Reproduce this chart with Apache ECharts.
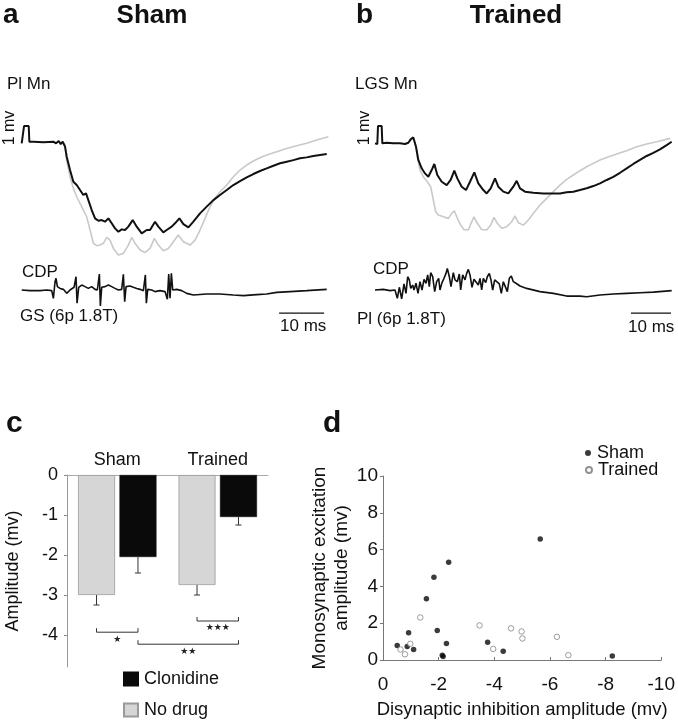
<!DOCTYPE html>
<html><head><meta charset="utf-8">
<script src="https://cdn.jsdelivr.net/npm/echarts@6/dist/echarts.min.js"></script>
<style>html,body{margin:0;padding:0;background:#fff}#c{width:678px;height:720px}</style>
</head><body><div id="c"></div><script>
// ---------- Panel a (Sham, Pl Mn) : [time ms, mV] ----------
var aBlack = [[0,-0.1],[0.37,-0.1],[0.52,0.98],[1.56,0.98],[1.7,0],[2.59,0],[4.81,-0.04],[7.04,0],[7.63,-0.1],[8.22,0.04],[8.67,-0.15],[9.11,0],[9.63,-0.31],[10,-0.94],[10.74,-1.77],[11.48,-2.5],[12.22,-2.71],[12.96,-3.02],[13.7,-3.33],[14.3,-3.23],[14.81,-3.65],[15.56,-4.27],[16.3,-4.79],[17.04,-4.94],[17.78,-4.9],[18.52,-5.0],[19.26,-4.79],[20,-5.1],[20.74,-5.42],[21.48,-5.63],[22.22,-5.48],[22.96,-5.52],[23.7,-5.31],[24.67,-4.9],[25.56,-5.31],[26.67,-5.73],[27.78,-5.52],[28.52,-5.52],[29.63,-5.0],[30.37,-5.31],[31.48,-5.67],[32.22,-5.52],[33.33,-5.31],[34.07,-5.1],[35.04,-4.79],[35.93,-5.15],[37.04,-5.35],[38.15,-5.0],[39.63,-4.48],[41.11,-4.06],[42.59,-3.65],[44.07,-3.33],[45.56,-3.02],[47.04,-2.71],[48.52,-2.46],[50,-2.23],[51.48,-2.02],[52.96,-1.83],[54.44,-1.67],[55.93,-1.5],[57.41,-1.35],[58.89,-1.25],[60.37,-1.15],[61.85,-1.04],[63.33,-0.98],[64.81,-0.9],[66.3,-0.83],[67.78,-0.77]];
var aGray = [[9.11,0],[9.63,-0.21],[10,-1.15],[10.74,-2.19],[11.48,-2.92],[12.22,-3.44],[12.96,-3.85],[13.7,-4.27],[14.44,-4.69],[15.19,-5.52],[15.93,-6.35],[16.67,-6.5],[17.41,-6.46],[18.15,-6.35],[18.89,-5.98],[19.63,-6.15],[20.37,-6.67],[21.48,-7.08],[22.59,-6.98],[23.7,-6.46],[24.44,-5.98],[25.19,-6.35],[26.3,-6.77],[27.41,-6.92],[28.52,-6.67],[29.48,-6.04],[30.37,-6.46],[31.48,-6.81],[32.59,-6.67],[33.7,-6.25],[34.81,-5.83],[35.93,-6.25],[37.41,-6.46],[38.52,-6.15],[39.63,-5.52],[40.74,-4.79],[41.85,-4.06],[42.96,-3.54],[44.07,-3.13],[45.56,-2.71],[47.04,-2.19],[48.52,-1.77],[50,-1.46],[51.48,-1.21],[52.96,-1.0],[54.44,-0.83],[56.67,-0.63],[58.89,-0.42],[61.11,-0.25],[63.33,-0.1],[65.56,0.1],[68.15,0.31]];
var aCDP = [[0,0],[1.85,-0.04],[4.07,-0.04],[5.56,0],[6.67,-0.04],[7.04,-0.52],[7.41,0.52],[7.63,0.73],[7.93,0.21],[8.52,0.1],[9.26,0.04],[10,-0.21],[10.74,0],[11.63,0.17],[12.07,0.83],[12.3,-0.83],[12.67,0.17],[13.33,0.31],[14.07,0.21],[14.81,0.1],[15.56,0.21],[16.3,0.04],[16.81,0],[17.26,1.0],[17.48,-1.0],[17.78,0.17],[18.52,0.21],[19.26,0.31],[20,0.21],[20.74,0.1],[21.48,0],[22.22,0.04],[22.59,0.98],[22.89,-0.73],[23.19,0.21],[24.07,0.25],[24.81,0.17],[25.56,0.1],[26.3,0.04],[27.04,-0.04],[27.48,0.94],[27.7,-0.83],[28,0.04],[28.89,0],[29.63,-0.1],[30.74,-0.04],[31.85,-0.1],[32.37,-0.58],[32.67,1.0],[32.96,-0.52],[33.26,1.04],[33.56,0],[34.44,0.04],[35.56,-0.04],[36.67,-0.21],[38.15,-0.31],[41.11,-0.25],[44.07,-0.25],[47.04,-0.31],[49.26,-0.35],[52.22,-0.29],[54.44,-0.25],[56.67,-0.15],[59.63,-0.1],[63.33,-0.04],[67.78,0.04]];
// ---------- Panel b (Trained, LGS Mn) ----------
var bBlack = [[0,-0.04],[0.58,-0.08],[0.75,1.04],[1.67,1.04],[1.83,-0.04],[2.92,0],[4.58,-0.04],[6.25,-0.04],[7.5,-0.08],[8.33,0],[8.92,0.21],[9.58,0.33],[10.25,-0.25],[10.83,-1.08],[11.67,-1.6],[12.5,-1.92],[13.33,-2.13],[14.17,-1.71],[14.83,-1.33],[15.58,-2.02],[16.67,-2.44],[17.92,-2.65],[18.92,-2.33],[19.83,-1.75],[20.58,-2.23],[21.67,-2.75],[22.75,-2.96],[23.75,-2.44],[24.83,-1.85],[25.83,-2.54],[27.08,-2.96],[27.92,-3.17],[28.92,-2.85],[30,-2.23],[30.83,-2.75],[32.08,-3.06],[33.33,-3.17],[34.58,-2.75],[35.42,-2.38],[36.25,-2.85],[37.5,-3.06],[39.58,-3.13],[42.08,-3.17],[44.58,-3.17],[46.25,-3.17],[47.92,-3.1],[49.58,-3.06],[51.25,-2.96],[52.92,-2.85],[54.58,-2.71],[56.25,-2.54],[57.92,-2.33],[59.58,-2.13],[61.25,-1.88],[62.92,-1.6],[64.58,-1.33],[66.25,-1.08],[67.92,-0.83],[69.58,-0.63],[71.25,-0.42],[72.92,-0.15],[74.17,0.06]];
var bGray = [[8.33,0],[8.92,0.21],[9.58,0.33],[10.25,-0.25],[10.58,-0.88],[11.25,-1.71],[12.08,-2.13],[13.08,-2.44],[13.92,-2.75],[14.58,-3.58],[15.17,-4.31],[15.83,-4.52],[17.08,-4.63],[18.33,-4.73],[19.17,-4.42],[19.83,-4.25],[20.58,-4.73],[21.42,-5.15],[22.25,-5.42],[23.33,-5.46],[24,-5.04],[24.75,-4.63],[25.58,-5.04],[26.67,-5.42],[27.92,-5.46],[28.92,-5.15],[29.75,-4.67],[30.58,-5.04],[31.67,-5.35],[32.92,-5.25],[34.17,-4.94],[35,-4.58],[35.83,-5.0],[37.08,-5.15],[38.33,-4.83],[39.58,-4.42],[41.25,-3.9],[42.92,-3.48],[44.58,-3.06],[46.25,-2.65],[47.92,-2.29],[49.58,-2.02],[51.25,-1.75],[52.92,-1.5],[54.58,-1.29],[56.25,-1.08],[57.92,-0.92],[60.42,-0.71],[62.92,-0.5],[65.42,-0.25],[67.92,-0.08],[70.42,0.06],[73.75,0.27]];
var bCDP = [[0,0],[2.08,0.04],[3.75,-0.04],[5,0],[5.58,-0.52],[6.08,0.17],[6.67,-0.56],[7.25,0.38],[7.75,-0.21],[8.17,0.83],[8.58,0.63],[8.92,0.1],[9.42,0.31],[9.75,0],[10.25,0.42],[10.75,-0.21],[11.25,0.52],[11.75,0],[12.25,0.67],[12.75,0.42],[13.17,0.94],[13.58,0.21],[13.92,1.08],[14.42,0.83],[14.92,-0.1],[15.42,0.52],[15.92,0.73],[16.25,0],[16.75,0.46],[17.25,0.73],[17.75,1.04],[18.08,1.35],[18.58,0.83],[19,0.21],[19.58,1.08],[20,0.63],[20.58,0.52],[21.08,1.0],[21.42,0],[21.92,0.94],[22.5,0.63],[22.92,1.04],[23.33,1.29],[23.75,0.94],[24.25,0.17],[24.75,0.67],[25.25,0.58],[25.83,0.31],[26.25,0.73],[26.67,0],[27.08,0.73],[27.67,0.46],[28.08,0.83],[28.58,1.04],[29,0.63],[29.42,0],[29.92,0.63],[30.42,0.52],[31.08,0.38],[31.58,-0.21],[32.08,0.52],[32.58,0.21],[33.08,-0.1],[33.58,0.73],[34.08,0.88],[34.58,0.52],[35.25,0.42],[36.25,0.25],[37.92,0.1],[41.25,-0.1],[44.58,-0.21],[47.92,-0.38],[51.25,-0.38],[52.92,-0.42],[56.25,-0.31],[59.58,-0.25],[62.92,-0.21],[66.25,-0.17],[69.58,-0.13],[74.17,-0.04]];
var scaleBarMs = 10;
var scaleBarStartA = 57.2, scaleBarStartB = 64.0, scaleBarLevel = -1.45;
// ---------- Panel c ----------
var groups = ['Sham', 'Trained'];
var noDrug = [-3.0, -2.75];
var noDrugErr = [0.25, 0.25];
var clonidine = [-2.05, -1.05];
var clonidineErr = [0.4, 0.2];
var yTicksC = [0, -1, -2, -3, -4];
// brackets: [fromBar, toBar, level(mv), stars]  bars: 0 Sham/No drug,1 Sham/Clon,2 Trained/No drug,3 Trained/Clon
var brackets = [[0, 1, -3.93, '★'], [2, 3, -3.65, '★★★'], [1, 3, -4.23, '★★']];
// ---------- Panel d ----------
var shamX = [-0.51,-0.92,-0.87,-1.10,-1.56,-1.95,-1.83,-2.13,-2.16,-2.28,-2.36,-3.76,-4.32,-5.65,-8.24];
var shamY = [0.79,1.48,0.74,0.57,3.33,1.60,4.50,0.26,0.19,0.90,5.31,0.97,0.48,6.57,0.22];
var trainedX = [-0.63,-0.79,-0.98,-1.34,-3.47,-3.96,-4.60,-4.98,-5.01,-6.25,-6.66];
var trainedY = [0.57,0.31,0.88,2.31,1.88,0.60,1.72,1.55,1.17,1.26,0.26];

var FONT = "'Liberation Sans', Arial, Helvetica, sans-serif";
var chart = echarts.init(document.getElementById('c'), null, {renderer: 'canvas'});
var BAR_W = 37, BAR_GAP = 0.12;
var barOffset = (BAR_W + BAR_W * BAR_GAP) / 2;

function hiddenAxis(gi, min, max) {
  return {gridIndex: gi, type: 'value', min: min, max: max, show: false};
}
function trace(name, data, gi, color, w, z) {
  return {name: name, type: 'line', xAxisIndex: gi, yAxisIndex: gi, data: data, showSymbol: false,
    symbol: 'none', lineStyle: {color: color, width: w}, z: z, animation: false, silent: true};
}
function txt(t, x, y, size, opts) {
  opts = opts || {};
  return {type: 'text', x: x, y: y, rotation: opts.rot || 0, silent: true,
    style: {text: t, x: 0, y: 0, font: (opts.bold ? 'bold ' : '') + size + 'px ' + FONT, fill: '#111',
      textAlign: opts.align || 'left', textVerticalAlign: 'middle'}};
}
function legendItem(name, top, icon, w, h, left) {
  return {data: [name], orient: 'vertical', left: left, top: top, itemWidth: w, itemHeight: h,
    icon: icon, selectedMode: false, padding: 0,
    textStyle: {color: '#111', fontSize: 18, fontFamily: FONT, padding: [0, 0, 0, 1]}};
}

var option = {
  backgroundColor: '#fff',
  animation: false,
  grid: [
    {left: 21.7, top: 117.7, width: 315, height: 144},
    {left: 21.7, top: 266, width: 315, height: 56},
    {left: 375, top: 118.7, width: 300, height: 144},
    {left: 375, top: 266, width: 300, height: 56},
    {left: 67, top: 475, width: 201, height: 192},
    {left: 383, top: 476, width: 279, height: 193}
  ],
  xAxis: [
    hiddenAxis(0, 0, 70), hiddenAxis(1, 0, 70), hiddenAxis(2, 0, 75), hiddenAxis(3, 0, 75),
    {gridIndex: 4, type: 'category', data: groups, position: 'top',
      axisLine: {onZero: false, lineStyle: {color: '#aaa', width: 1}}, axisTick: {show: false},
      axisLabel: {color: '#111', fontSize: 18, fontFamily: FONT, margin: 6}},
    {gridIndex: 5, type: 'value', min: -10, max: 0, interval: 2, inverse: true,
      name: 'Disynaptic inhibition amplitude (mv)', nameLocation: 'middle', nameGap: 40,
      nameTextStyle: {color: '#111', fontSize: 18.5, fontFamily: FONT},
      axisLine: {onZero: false, lineStyle: {color: '#777', width: 1}},
      axisTick: {inside: true, length: 3, lineStyle: {color: '#777'}},
      splitLine: {show: false},
      axisLabel: {color: '#111', fontSize: 19, fontFamily: FONT, margin: 15}}
  ],
  yAxis: [
    hiddenAxis(0, -7.5, 1.5), hiddenAxis(1, -2, 1.5), hiddenAxis(2, -7.5, 1.5), hiddenAxis(3, -2, 1.5),
    {gridIndex: 4, type: 'value', min: -4.8, max: 0,
      name: 'Amplitude (mv)', nameLocation: 'middle', nameGap: 45,
      nameTextStyle: {color: '#111', fontSize: 18, fontFamily: FONT},
      axisLine: {show: true, lineStyle: {color: '#999', width: 1}},
      axisTick: {show: true, length: 3, customValues: yTicksC, lineStyle: {color: '#888'}},
      splitLine: {show: false},
      axisLabel: {customValues: yTicksC, color: '#111', fontSize: 18, fontFamily: FONT, margin: 9}},
    {gridIndex: 5, type: 'value', min: 0, max: 10, interval: 2,
      name: 'Monosynaptic excitation\namplitude (mv)', nameLocation: 'middle', nameGap: 16,
      nameTextStyle: {color: '#111', fontSize: 19, fontFamily: FONT, lineHeight: 22},
      axisLine: {show: true, lineStyle: {color: '#777', width: 1}},
      axisTick: {show: true, length: 3, lineStyle: {color: '#777'}},
      splitLine: {show: false},
      axisLabel: {color: '#111', fontSize: 19, fontFamily: FONT, margin: 5}}
  ],
  legend: [
    legendItem('Clonidine', 670, 'rect', 14, 13, 123),
    legendItem('No drug', 701, 'rect', 14, 13, 123),
    legendItem('Sham', 444, 'circle', 6, 6, 585),
    legendItem('Trained', 461, 'circle', 6, 6, 585)
  ],
  series: [
    trace('a gray', aGray, 0, '#c9c9c9', 1.6, 2),
    trace('a black', aBlack, 0, '#111', 2, 3),
    trace('a CDP', aCDP, 1, '#111', 1.6, 3),
    trace('a scale', [[scaleBarStartA, scaleBarLevel], [scaleBarStartA + scaleBarMs, scaleBarLevel]], 1, '#111', 1.2, 3),
    trace('b gray', bGray, 2, '#c9c9c9', 1.6, 2),
    trace('b black', bBlack, 2, '#111', 2, 3),
    trace('b CDP', bCDP, 3, '#111', 1.6, 3),
    trace('b scale', [[scaleBarStartB, scaleBarLevel], [scaleBarStartB + scaleBarMs, scaleBarLevel]], 3, '#111', 1.2, 3),
    {name: 'No drug', type: 'bar', xAxisIndex: 4, yAxisIndex: 4, data: noDrug, barWidth: BAR_W,
      barGap: (BAR_GAP * 100) + '%', itemStyle: {color: '#d6d6d6', borderColor: '#9a9a9a', borderWidth: 0.8}},
    {name: 'Clonidine', type: 'bar', xAxisIndex: 4, yAxisIndex: 4, data: clonidine, barWidth: BAR_W,
      itemStyle: {color: '#0a0a0a', borderColor: '#0a0a0a', borderWidth: 0.5}},
    {type: 'custom', xAxisIndex: 4, yAxisIndex: 4, z: 5, silent: true,
      data: noDrug.map(function (v, i) { return [i, v, noDrugErr[i], -1]; })
        .concat(clonidine.map(function (v, i) { return [i, v, clonidineErr[i], 1]; })),
      renderItem: function (params, api) {
        var p0 = api.coord([api.value(0), api.value(1)]);
        var p1 = api.coord([api.value(0), api.value(1) - api.value(2)]);
        var x = p0[0] + api.value(3) * barOffset;
        var st = {stroke: '#333', lineWidth: 1};
        return {type: 'group', children: [
          {type: 'line', shape: {x1: x, y1: p0[1], x2: x, y2: p1[1]}, style: st},
          {type: 'line', shape: {x1: x - 3, y1: p1[1], x2: x + 3, y2: p1[1]}, style: st}
        ]};
      }},
    {type: 'custom', xAxisIndex: 4, yAxisIndex: 4, z: 5, silent: true, clip: false,
      data: brackets.map(function (b) { return [b[0], b[1], b[2]]; }),
      renderItem: function (params, api) {
        var b = brackets[params.dataIndex];
        function bx(bar) {
          var c = api.coord([Math.floor(bar / 2), 0]);
          return c[0] + (bar % 2 ? 1 : -1) * barOffset;
        }
        var x1 = bx(api.value(0)), x2 = bx(api.value(1));
        var y = api.coord([0, api.value(2)])[1];
        var st = {stroke: '#333', lineWidth: 1, fill: null};
        return {type: 'group', children: [
          {type: 'polyline', shape: {points: [[x1, y - 4], [x1, y], [x2, y], [x2, y - 4]]}, style: st},
          {type: 'text', style: {text: b[3], x: (x1 + x2) / 2, y: y + 7, font: '9px DejaVu Sans', fill: '#222',
            textAlign: 'center', textVerticalAlign: 'middle'}}
        ]};
      }},
    {name: 'Sham', type: 'scatter', xAxisIndex: 5, yAxisIndex: 5, symbolSize: 5.5,
      data: shamX.map(function (x, i) { return [x, shamY[i]]; }),
      itemStyle: {color: '#0a0a0a'}, z: 4},
    {name: 'Trained', type: 'scatter', xAxisIndex: 5, yAxisIndex: 5, symbolSize: 5.5,
      data: trainedX.map(function (x, i) { return [x, trainedY[i]]; }),
      itemStyle: {color: '#fff', borderColor: '#777', borderWidth: 0.9}, z: 4}
  ],
  graphic: [
    txt('a', 3, 15, 28, {bold: true}),
    txt('Sham', 152, 16, 26, {bold: true, align: 'center'}),
    txt('b', 356, 15, 28, {bold: true}),
    txt('Trained', 516, 16, 26, {bold: true, align: 'center'}),
    txt('Pl Mn', 7, 84, 17),
    txt('LGS Mn', 355, 84, 17),
    txt('1 mv', 10, 128, 16, {rot: Math.PI / 2, align: 'center'}),
    txt('1 mv', 365, 128, 16, {rot: Math.PI / 2, align: 'center'}),
    txt('CDP', 22, 272, 17),
    txt('CDP', 373, 269, 17),
    txt('GS (6p 1.8T)', 20, 316, 17),
    txt('Pl (6p 1.8T)', 357, 319, 17),
    txt('10 ms', 280, 326, 17),
    txt('10 ms', 628, 327, 17),
    txt('c', 6, 424, 30, {bold: true}),
    txt('d', 323, 424, 30, {bold: true})
  ]
};
chart.setOption(option);
</script></body></html>
